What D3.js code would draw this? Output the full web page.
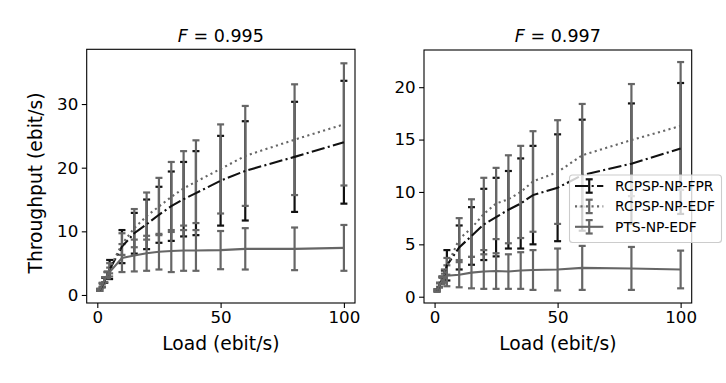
<!DOCTYPE html>
<html>
<head>
<meta charset="utf-8">
<script src="https://cdn.jsdelivr.net/npm/d3@7"></script>
<style>
  body { margin: 0; background: #fff; }
  text { font-family: 'DejaVu Sans', sans-serif; fill: #000; }
</style>
</head>
<body>
<div id="chart"></div>
<script>
// Offered load (x positions shared by both panels).
const loads = [1, 2, 3, 4, 5, 10, 15, 20, 25, 30, 35, 40, 50, 60, 80, 100]

// Left panel, F = 0.995.
const fprMeanA = [0.8, 1.5, 2.3, 3.1, 4.0, 7.6, 9.7, 11.1, 12.6, 13.95, 15.05, 16.0, 17.95, 19.5, 21.7, 24.0]
const fprErrA = [0.15, 0.3, 0.4, 0.5, 1.5, 2.6, 3.2, 3.9, 4.4, 5.45, 5.85, 6.6, 7.05, 7.8, 8.65, 9.65]
const edfMeanA = [0.8, 1.6, 2.4, 3.2, 4.2, 8.0, 10.5, 12.4, 13.9, 15.4, 16.75, 17.8, 19.8, 21.85, 24.4, 26.8]
const edfErrA = [0.15, 0.3, 0.4, 0.5, 0.8, 1.7, 3.0, 3.7, 4.5, 5.5, 5.85, 6.5, 7.0, 7.85, 8.7, 9.6]
const ptsMeanA = [0.8, 1.6, 2.4, 3.1, 3.6, 5.8, 6.2, 6.55, 6.8, 6.9, 7.0, 7.0, 7.05, 7.25, 7.25, 7.4]
const ptsErrA = [0.15, 0.3, 0.4, 0.5, 0.7, 2.2, 2.5, 2.75, 2.8, 3.3, 3.2, 3.2, 3.0, 3.25, 3.35, 3.6]

// Right panel, F = 0.997.
const fprMeanB = [0.6, 1.1, 1.6, 2.1, 3.0, 4.7, 5.8, 6.9, 7.6, 8.3, 8.9, 9.7, 10.4, 11.6, 12.7, 14.15]
const fprErrB = [0.1, 0.2, 0.3, 0.4, 1.45, 2.1, 2.75, 3.4, 3.75, 3.7, 4.3, 4.7, 5.1, 5.3, 5.75, 6.25]
const edfMeanB = [0.6, 1.15, 1.65, 2.2, 2.9, 5.5, 6.55, 7.9, 8.9, 9.3, 10.0, 11.0, 11.9, 13.5, 14.95, 16.3]
const edfErrB = [0.1, 0.2, 0.3, 0.4, 0.8, 2.0, 2.75, 3.45, 3.4, 4.2, 4.4, 4.8, 4.95, 4.9, 5.35, 6.1]
const ptsMeanB = [0.6, 1.1, 1.5, 1.8, 2.0, 2.1, 2.3, 2.4, 2.45, 2.4, 2.5, 2.55, 2.6, 2.75, 2.7, 2.6]
const ptsErrB = [0.1, 0.2, 0.3, 0.4, 1.0, 1.2, 1.5, 1.65, 1.7, 1.65, 1.75, 1.9, 2.0, 2.1, 2.05, 1.8]

// Labels and ticks.
const seriesNames = ['RCPSP-NP-FPR', 'RCPSP-NP-EDF', 'PTS-NP-EDF']
const titlesF = ['0.995', '0.997']
const xTicks = [0, 50, 100]
const yTicksA = [0, 10, 20, 30]
const yTicksB = [0, 5, 10, 15, 20]

// Line styles per series (FPR dash-dot, EDF dotted, PTS solid).
const styles = [
  { color: '#111', dash: '13.3,3.3,2.1,3.3' },
  { color: '#666', dash: '2.1,3.4' },
  { color: '#666', dash: null }
]

const svg = d3.select('#chart').append('svg')
  .attr('width', 726)
  .attr('height', 383)
  .style('background', '#fff')

function drawPanel(box, yDomain, yTicks, fValue, series, withYLabel) {
  const x = d3.scaleLinear().domain([-4.3, 104.5]).range([box.left, box.right])
  const y = d3.scaleLinear().domain(yDomain).range([box.bottom, box.top])

  // Axes.
  const xAxis = svg.append('g')
    .attr('transform', 'translate(0,' + box.bottom + ')')
    .call(d3.axisBottom(x).tickValues(xTicks).tickSize(4.9).tickPadding(3.5).tickSizeOuter(0))
  const yAxis = svg.append('g')
    .attr('transform', 'translate(' + box.left + ',0)')
    .call(d3.axisLeft(y).tickValues(yTicks).tickSize(4.9).tickPadding(3.5).tickSizeOuter(0))
  ;[xAxis, yAxis].forEach(function (g) {
    g.select('.domain').remove()
    g.selectAll('.tick line').attr('stroke', '#000').attr('stroke-width', 1.1)
    g.selectAll('.tick text').attr('font-size', '16.7px').attr('fill', '#000')
      .style('font-family', "'DejaVu Sans', sans-serif")
  })

  // Error bars first (matplotlib puts them just below the lines).
  series.forEach(function (s, k) {
    const st = styles[k]
    const g = svg.append('g')
    loads.forEach(function (v, i) {
      const lo = y(s.mean[i] - s.err[i])
      const hi = y(s.mean[i] + s.err[i])
      const cx = x(v)
      g.append('line').attr('x1', cx).attr('x2', cx).attr('y1', lo).attr('y2', hi)
        .attr('stroke', st.color).attr('stroke-width', 2.2)
      ;[lo, hi].forEach(function (cy) {
        g.append('line').attr('x1', cx - 3.5).attr('x2', cx + 3.5).attr('y1', cy).attr('y2', cy)
          .attr('stroke', st.color).attr('stroke-width', 2.2)
      })
    })
  })

  // Mean lines.
  series.forEach(function (s, k) {
    const st = styles[k]
    const line = d3.line().x(function (d, i) { return x(loads[i]) }).y(function (d) { return y(d) })
    svg.append('path')
      .attr('d', line(s.mean))
      .attr('fill', 'none')
      .attr('stroke', st.color)
      .attr('stroke-width', 2.1)
      .attr('stroke-dasharray', st.dash)
  })

  // Frame.
  svg.append('rect')
    .attr('x', box.left).attr('y', box.top)
    .attr('width', box.right - box.left).attr('height', box.bottom - box.top)
    .attr('fill', 'none').attr('stroke', '#000').attr('stroke-width', 1.1)

  // Title with italic F.
  const title = svg.append('text')
    .attr('x', (box.left + box.right) / 2)
    .attr('y', 42)
    .attr('text-anchor', 'middle')
    .attr('font-size', '17.5px')
  title.append('tspan').attr('font-style', 'italic').text('F')
  title.append('tspan').text(' = ' + fValue)

  // Axis labels.
  svg.append('text')
    .attr('x', (box.left + box.right) / 2)
    .attr('y', 350)
    .attr('text-anchor', 'middle')
    .attr('font-size', '18.7px')
    .text('Load (ebit/s)')

  if (withYLabel) {
    svg.append('text')
      .attr('transform', 'translate(42,183) rotate(-90)')
      .attr('text-anchor', 'middle')
      .attr('font-size', '18.7px')
      .text('Throughput (ebit/s)')
  }
}

drawPanel(
  { left: 86.7, right: 355, top: 49.3, bottom: 303 },
  [-1.26, 38.6], yTicksA, titlesF[0],
  [
    { mean: fprMeanA, err: fprErrA },
    { mean: edfMeanA, err: edfErrA },
    { mean: ptsMeanA, err: ptsErrA }
  ],
  true
)

drawPanel(
  { left: 424, right: 691.7, top: 50, bottom: 303 },
  [-0.6, 23.55], yTicksB, titlesF[1],
  [
    { mean: fprMeanB, err: fprErrB },
    { mean: edfMeanB, err: edfErrB },
    { mean: ptsMeanB, err: ptsErrB }
  ],
  false
)

// Legend (sits over the right panel, semi-transparent).
const legend = svg.append('g')
legend.append('rect')
  .attr('x', 569.5).attr('y', 175)
  .attr('width', 152).attr('height', 67.5)
  .attr('rx', 3)
  .attr('fill', '#fff').attr('fill-opacity', 0.8)
  .attr('stroke', '#ccc').attr('stroke-width', 1.1)

seriesNames.forEach(function (name, k) {
  const st = styles[k]
  const cy = 186 + k * 20.4
  legend.append('line')
    .attr('x1', 575).attr('x2', 603.3).attr('y1', cy).attr('y2', cy)
    .attr('stroke', st.color).attr('stroke-width', 2.1)
    .attr('stroke-dasharray', st.dash)
  legend.append('line')
    .attr('x1', 589.2).attr('x2', 589.2).attr('y1', cy - 6.7).attr('y2', cy + 6.7)
    .attr('stroke', st.color).attr('stroke-width', 2.2)
  ;[cy - 6.7, cy + 6.7].forEach(function (yy) {
    legend.append('line')
      .attr('x1', 585.7).attr('x2', 592.7).attr('y1', yy).attr('y2', yy)
      .attr('stroke', st.color).attr('stroke-width', 2.2)
  })
  legend.append('text')
    .attr('x', 615).attr('y', cy + 5)
    .attr('font-size', '13.9px')
    .text(name)
})
</script>
</body>
</html>
